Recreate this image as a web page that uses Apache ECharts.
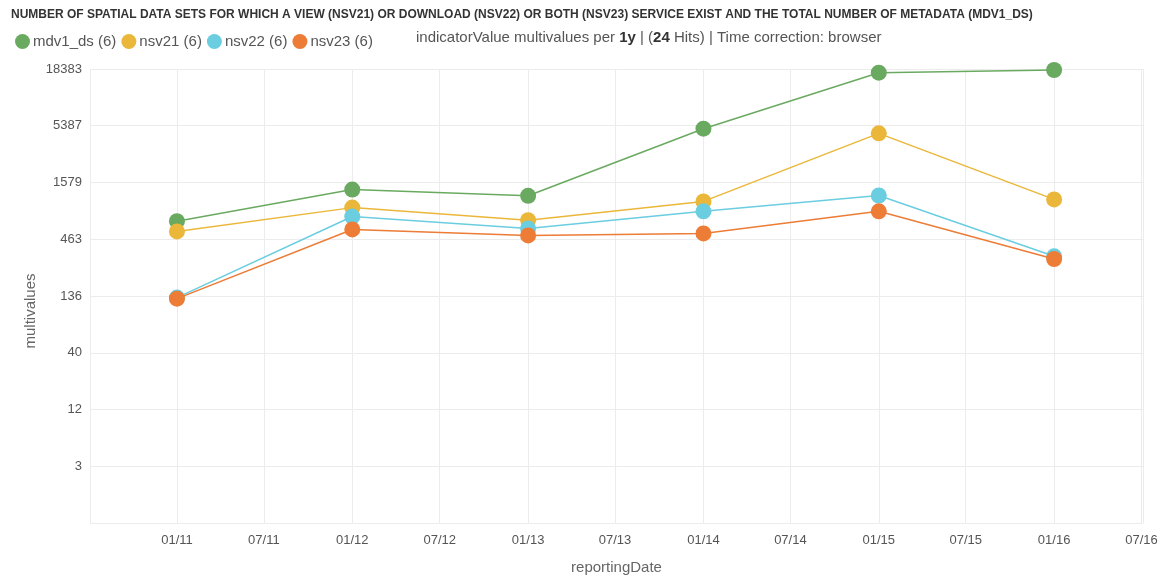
<!DOCTYPE html>
<html>
<head>
<meta charset="utf-8">
<script src="https://cdn.jsdelivr.net/npm/echarts@6/dist/echarts.min.js"></script>
<style>
html,body{margin:0;padding:0;background:#fff;}
#chart{width:1163px;height:580px;}
</style>
</head>
<body>
<div id="chart"></div>
<script>
const titleText = 'NUMBER OF SPATIAL DATA SETS FOR WHICH A VIEW (NSV21) OR DOWNLOAD (NSV22) OR BOTH (NSV23) SERVICE EXIST AND THE TOTAL NUMBER OF METADATA (MDV1_DS)';
const dates = ['2011-01-01', '2012-01-01', '2013-01-01', '2014-01-01', '2015-01-01', '2016-01-01'];
const seriesNames = ['mdv1_ds', 'nsv21', 'nsv22', 'nsv23'];
const mdv1_ds = [683, 1354, 1184, 5055, 16980, 18000];
const nsv21 = [548, 917, 698, 1049, 4571, 1095];
const nsv22 = [131, 756, 584, 846, 1192, 320];
const nsv23 = [128, 572, 503, 525, 846, 302];
const colors = ['#6aaa60', '#ebb73a', '#6acde0', '#ec7c36'];
const yMax = 18383;
const yTicksCount = 8;

const allValues = [mdv1_ds, nsv21, nsv22, nsv23];
const logBase = Math.pow(yMax, 1 / yTicksCount);
const FONT = 'Liberation Sans, Arial, sans-serif';

const chart = echarts.init(document.getElementById('chart'), null, {renderer: 'canvas'});
const option = {
  animation: false,
  backgroundColor: '#fff',
  textStyle: {fontFamily: FONT},
  title: {
    text: titleText,
    left: 6, top: 4,
    textStyle: {fontSize: 12, fontWeight: 'bold', color: '#333', fontFamily: FONT}
  },
  legend: {
    left: 10, top: 29,
    icon: 'circle',
    itemWidth: 15, itemHeight: 15, itemGap: 5,
    data: seriesNames,
    formatter: function (n) { return n + ' (6)'; },
    textStyle: {fontSize: 15, color: '#555', padding: [0, 0, 0, -2]}
  },
  graphic: [{
    type: 'text', left: 416, top: 30,
    style: {
      rich: {
        n: {fontSize: 15, fill: '#555', fontFamily: FONT},
        b: {fontSize: 15, fill: '#333', fontWeight: 'bold', fontFamily: FONT}
      },
      text: '{n|indicatorValue multivalues per }{b|1y}{n| | (}{b|24}{n| Hits) | Time correction: browser}'
    }
  }, {
    type: 'text', x: 31, y: 311, rotation: Math.PI / 2,
    style: {text: 'multivalues', fontSize: 15, fill: '#666', fontFamily: FONT,
      align: 'center', verticalAlign: 'middle'}
  }],
  grid: {left: 90, right: 20, top: 69, bottom: 53, containLabel: false},
  xAxis: {
    type: 'time',
    min: '2010-07-04', max: '2016-07-04',
    splitNumber: 12,
    name: 'reportingDate', nameLocation: 'middle', nameGap: 37,
    nameTextStyle: {fontSize: 15, color: '#666'},
    axisLine: {show: false}, axisTick: {show: false},
    axisLabel: {formatter: '{MM}/{yy}', fontSize: 13, color: '#555', margin: 11,
      showMinLabel: false, showMaxLabel: false},
    splitLine: {show: true, lineStyle: {color: '#ececec'}}
  },
  yAxis: {
    type: 'log', logBase: logBase,
    min: 1, max: yMax, splitNumber: yTicksCount,
    axisLine: {show: false}, axisTick: {show: false},
    axisLabel: {fontSize: 13, color: '#555', margin: 8,
      formatter: function (v) { return v < 2 ? '' : String(Math.round(v)); }},
    splitLine: {show: true, lineStyle: {color: '#ececec'}}
  },
  series: seriesNames.map(function (name, i) {
    return {
      name: name, type: 'line',
      data: dates.map(function (d, j) { return [d, allValues[i][j]]; }),
      symbol: 'circle', symbolSize: 16,
      itemStyle: {color: colors[i]},
      lineStyle: {width: 1.5, color: colors[i]},
      z: 2 + i
    };
  })
};
chart.setOption(option);
</script>
</body>
</html>
